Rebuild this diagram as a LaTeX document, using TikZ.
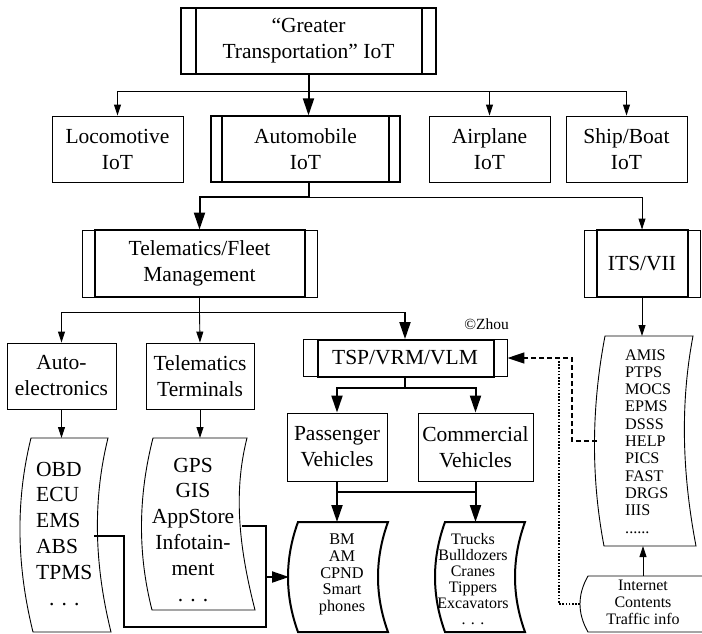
\documentclass[tikz,border=0pt]{standalone}
\usepackage{fontspec}
\setmainfont{Liberation Serif}
\usetikzlibrary{arrows.meta}
\newcommand\mainf{\fontsize{21.5}{26}\selectfont}
\newcommand{\bowtape}[8][]{%
  \draw[#1] (#2,#6) -- (#4,#6)
    .. controls ({#4-4*#8/3},{#6+(#7-#6)/3}) and ({#5-4*#8/3},{#7-(#7-#6)/3}) .. (#5,#7)
    -- (#3,#7)
    .. controls ({#3-4*#8/3},{#7-(#7-#6)/3}) and ({#2-4*#8/3},{#6+(#7-#6)/3}) .. cycle;}
\tikzset{
  thinl/.style={line width=0.9pt},
  thickl/.style={line width=2pt},
  harr/.style={-{Triangle[length=11pt,width=7pt]}},
  Harr/.style={-{Triangle[length=17pt,width=11pt]}},
  box/.style={draw, line width=0.9pt, inner sep=0pt, align=center, font=\mainf},
  txt/.style={inner sep=0pt},
}
\begin{document}
\begin{tikzpicture}[x=1pt,y=-1pt]
\clip (0,0) rectangle (702,633);

% ---------- boxes ----------
\node[box, line width=1.1pt, minimum width=255pt, minimum height=66pt] (gt) at (308.5,41) {“Greater\\Transportation” IoT};
\draw[line width=1.1pt] (196,8) -- (196,74) (422,8) -- (422,74);

\node[box, minimum width=131pt, minimum height=66pt] (loco) at (117.5,149) {Locomotive\\IoT};
\node[box, line width=1.3pt, minimum width=189pt, minimum height=66pt] (auto) at (305.5,149) {Automobile\\IoT};
\draw[thickl] (222,116) rectangle (389,182);
\node[box, minimum width=121pt, minimum height=66pt] (air) at (489.5,149) {Airplane\\IoT};
\node[box, minimum width=121pt, minimum height=66pt] (ship) at (626.5,149) {Ship/Boat\\IoT};

\node[box, minimum width=235pt, minimum height=67pt] (tel) at (199.5,263.5) {Telematics/Fleet\\Management};
\draw[thickl] (95,230) rectangle (305,297);
\node[box, minimum width=116pt, minimum height=67pt] (its) at (642,263.5) {ITS/VII};
\draw[thickl] (597,230) rectangle (688,297);

\node[box, minimum width=109pt, minimum height=66pt] (ae) at (61.5,376) {Auto-\\electronics};
\node[box, minimum width=108pt, minimum height=66pt] (tt) at (200,376) {Telematics\\Terminals};
\node[box, minimum width=204pt, minimum height=37pt] (tsp) at (405,358) {TSP/VRM/VLM};
\draw[thickl] (318,339.5) rectangle (494,376.5);

\node[box, minimum width=100pt, minimum height=68pt] (pv) at (337,447) {Passenger\\Vehicles};
\node[box, minimum width=115pt, minimum height=68pt] (cv) at (475.5,447) {Commercial\\Vehicles};

\node[txt, font=\fontsize{15.5}{18}\selectfont] (cr) at (486.5,324) {©Zhou};

% ---------- tapes ----------
\bowtape[thinl]{31}{33}{108}{111}{438}{632}{12}
\bowtape[thinl]{153}{152}{247}{255}{438}{610}{11}
\bowtape[thickl]{298}{298}{388}{388}{522}{632}{10}
\bowtape[thickl]{445}{445}{525}{525}{522}{632}{10}
\bowtape[thinl]{605}{604}{693}{696}{336}{546}{10}
\bowtape[thinl]{588}{588}{712}{712}{576}{632}{8}

\node[txt, anchor=base west] (obd) at (36,476) {\fontsize{21.5}{25.8}\selectfont\begin{tabular}[t]{@{}l@{}}OBD\\ECU\\EMS\\ABS\\TPMS\\\multicolumn{1}{@{}c@{}}{. . .}\end{tabular}};
\node[txt, anchor=base] (gps) at (193,472) {\fontsize{21.5}{25.8}\selectfont\begin{tabular}[t]{@{}c@{}}GPS\\GIS\\AppStore\\Infotain-\\ment\\. . .\end{tabular}};
\node[txt, anchor=base] (bm) at (342,544.5) {\fontsize{16.3}{16.8}\selectfont\begin{tabular}[t]{@{}c@{}}BM\\AM\\CPND\\Smart\\phones\end{tabular}};
\node[txt, anchor=base] (trk) at (473,544.5) {\fontsize{16}{16}\selectfont\begin{tabular}[t]{@{}c@{}}Trucks\\Bulldozers\\Cranes\\Tippers\\Excavators\\. . .\end{tabular}};
\node[txt, anchor=base west] (amis) at (625,360) {\fontsize{16.2}{17.3}\selectfont\begin{tabular}[t]{@{}l@{}}AMIS\\PTPS\\MOCS\\EPMS\\DSSS\\HELP\\PICS\\FAST\\DRGS\\IIIS\\......\end{tabular}};
\node[txt, anchor=base] (inet) at (643,590) {\fontsize{16}{17}\selectfont\begin{tabular}[t]{@{}c@{}}Internet\\Contents\\Traffic info\end{tabular}};

% tape reference points
\coordinate (obdT) at (69,438);
\coordinate (gpsT) at (200,438);
\coordinate (obdR) at (94,536);
\coordinate (gpsR) at (242,526);
\coordinate (bmL) at (289,577);
\coordinate (bmT) at (343,522);
\coordinate (trkT) at (485,522);
\coordinate (amisT) at (648,336);
\coordinate (amisB) at (648,546);
\coordinate (amisL) at (597,441);
\coordinate (inetT) at (643,576);
\coordinate (inetL) at (580,604);

% ---------- connectors ----------
\coordinate (b1) at (308.5,91);
\draw[thickl, Harr] (gt.south) -- (gt.south |- auto.north);
\draw[thinl, harr] (b1) -| (loco.north);
\draw[thinl, harr] (b1) -| (air.north);
\draw[thinl, harr] (b1) -| (ship.north);

\coordinate (b2) at (308.5,197);
\draw[thickl, Harr] (b2 |- auto.south) -- (b2) -| (tel.north);
\draw[thinl, harr] (b2) -| (its.north);

\coordinate (b3) at (199.5,312);
\draw[thinl] (tel.south) -- (b3);
\draw[thinl, harr] (b3) -| (ae.north);
\draw[thinl, harr] (b3) -- (tt.north);
\draw[thinl] (b3) -- (b3 -| tsp.north);
\draw[thickl, Harr] (b3 -| tsp.north) -- (tsp.north);

\draw[thinl, harr] (ae.south) -- (ae.south |- obdT);
\draw[thinl, harr] (tt.south) -- (tt.south |- gpsT);

\coordinate (b4) at (405,388);
\draw[thickl, Harr] (tsp.south) -- (b4) -| (pv.north);
\draw[thickl, Harr] (b4) -| (cv.north);

\coordinate (b5) at (337,492);
\draw[thickl, Harr] (pv.south) -- (pv.south |- bmT);
\draw[thickl, Harr] (cv.south) -- (cv.south |- trkT);
\draw[thickl] (b5) -- (b5 -| cv.south);

\coordinate (j1) at (266,577);
\draw[thickl] (obdR) -- (124,536) -- (124,627) -- (266,627) -- (266,526) -- (gpsR);
\draw[thickl, Harr] (j1) -- (bmL);

\draw[thinl, harr] (its.south) -- (its.south |- amisT);
\draw[thinl, harr] (inetT) -- (inetT |- amisB);

\draw[line width=1.6pt, dash pattern=on 5pt off 3pt, Harr] (amisL) -- (572,441) -- (572,358) -- (tsp.east);
\draw[line width=1.6pt, dash pattern=on 1.6pt off 1.6pt] (inetL) -- (559,604) -- (559,358);
\end{tikzpicture}
\end{document}
